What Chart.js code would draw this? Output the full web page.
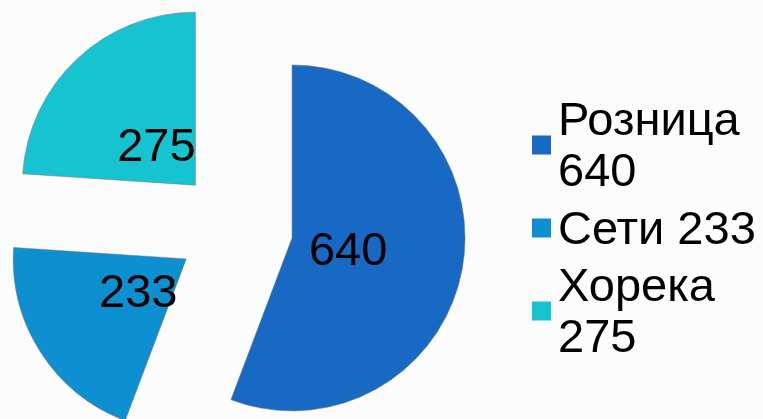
<!DOCTYPE html>
<html>
<head>
<meta charset="utf-8">
<script src="https://cdn.jsdelivr.net/npm/chart.js@4.4.0/dist/chart.umd.min.js"></script>
<style>
  html, body { margin: 0; padding: 0; background: #fcfcfc; }
  #wrap { width: 763px; height: 419px; position: relative; }
</style>
</head>
<body>
<div id="wrap"><canvas id="myChart"></canvas></div>
<script>
const categories = ['Розница', 'Сети', 'Хорека'];
const values = [640, 233, 275];
const colors = ['#1769c4', '#0d8fd0', '#15c4d0'];

const explode = 58;      // how far each slice is pulled out from the centre
const labelDist = 57;    // value label distance from the slice tip
const labelFont = '47px "Liberation Sans", Arial, sans-serif';
const legendFont = '47px "Liberation Sans", Arial, sans-serif';

const ctx = document.getElementById('myChart').getContext('2d');

// wrap a legend entry into lines that fit the space on the right
function wrapText(c, text, maxWidth) {
  const words = text.split(' ');
  const lines = [];
  let line = '';
  words.forEach(w => {
    const test = line ? line + ' ' + w : w;
    if (line && c.measureText(test).width > maxWidth) {
      lines.push(line);
      line = w;
    } else {
      line = test;
    }
  });
  lines.push(line);
  return lines;
}

const explodedPie = {
  id: 'explodedPie',
  beforeDatasetsDraw(chart) {
    const c = chart.ctx;
    chart.getDatasetMeta(0).data.forEach(arc => {
      const mid = (arc.startAngle + arc.endAngle) / 2;
      c.save();
      c.translate(Math.cos(mid) * explode, Math.sin(mid) * explode);
      arc.draw(c);
      c.restore();
    });
    return false;
  },
  afterDraw(chart) {
    const c = chart.ctx;
    const meta = chart.getDatasetMeta(0);

    // values inside the slices
    c.save();
    c.font = labelFont;
    c.fillStyle = '#000';
    c.textAlign = 'center';
    c.textBaseline = 'alphabetic';
    meta.data.forEach((arc, i) => {
      const mid = (arc.startAngle + arc.endAngle) / 2;
      const d = explode + labelDist;
      const x = arc.x + Math.cos(mid) * d;
      const y = arc.y + Math.sin(mid) * d;
      c.fillText(String(values[i]), x, y + 17);
    });
    c.restore();

    // legend on the right
    c.save();
    c.font = legendFont;
    c.textAlign = 'left';
    c.textBaseline = 'alphabetic';
    const boxX = 532, boxSize = 19, textX = 558, lineH = 51, capH = 31;
    categories.forEach((cat, i) => {
      const yc = 145 + i * 83;
      const lines = wrapText(c, cat + ' ' + values[i], 763 - textX);
      c.fillStyle = colors[i];
      c.fillRect(boxX, yc - boxSize / 2, boxSize, boxSize);
      c.fillStyle = '#000';
      lines.forEach((ln, k) => {
        const base = yc - (lines.length - 1) * lineH / 2 + capH / 2 + k * lineH;
        c.fillText(ln, textX, base);
      });
    });
    c.restore();
  }
};

const chart = new Chart(ctx, {
  type: 'pie',
  data: {
    labels: categories,
    datasets: [{
      data: values,
      backgroundColor: colors,
      borderColor: 'rgba(110, 120, 125, 0.55)',
      borderWidth: 1,
      radius: 173
    }]
  },
  options: {
    responsive: true,
    maintainAspectRatio: false,
    animation: false,
    layout: {
      padding: { left: 0, right: 293, top: 36, bottom: 0 }
    },
    plugins: {
      legend: { display: false },
      tooltip: { enabled: false }
    }
  },
  plugins: [explodedPie]
});
</script>
</body>
</html>
